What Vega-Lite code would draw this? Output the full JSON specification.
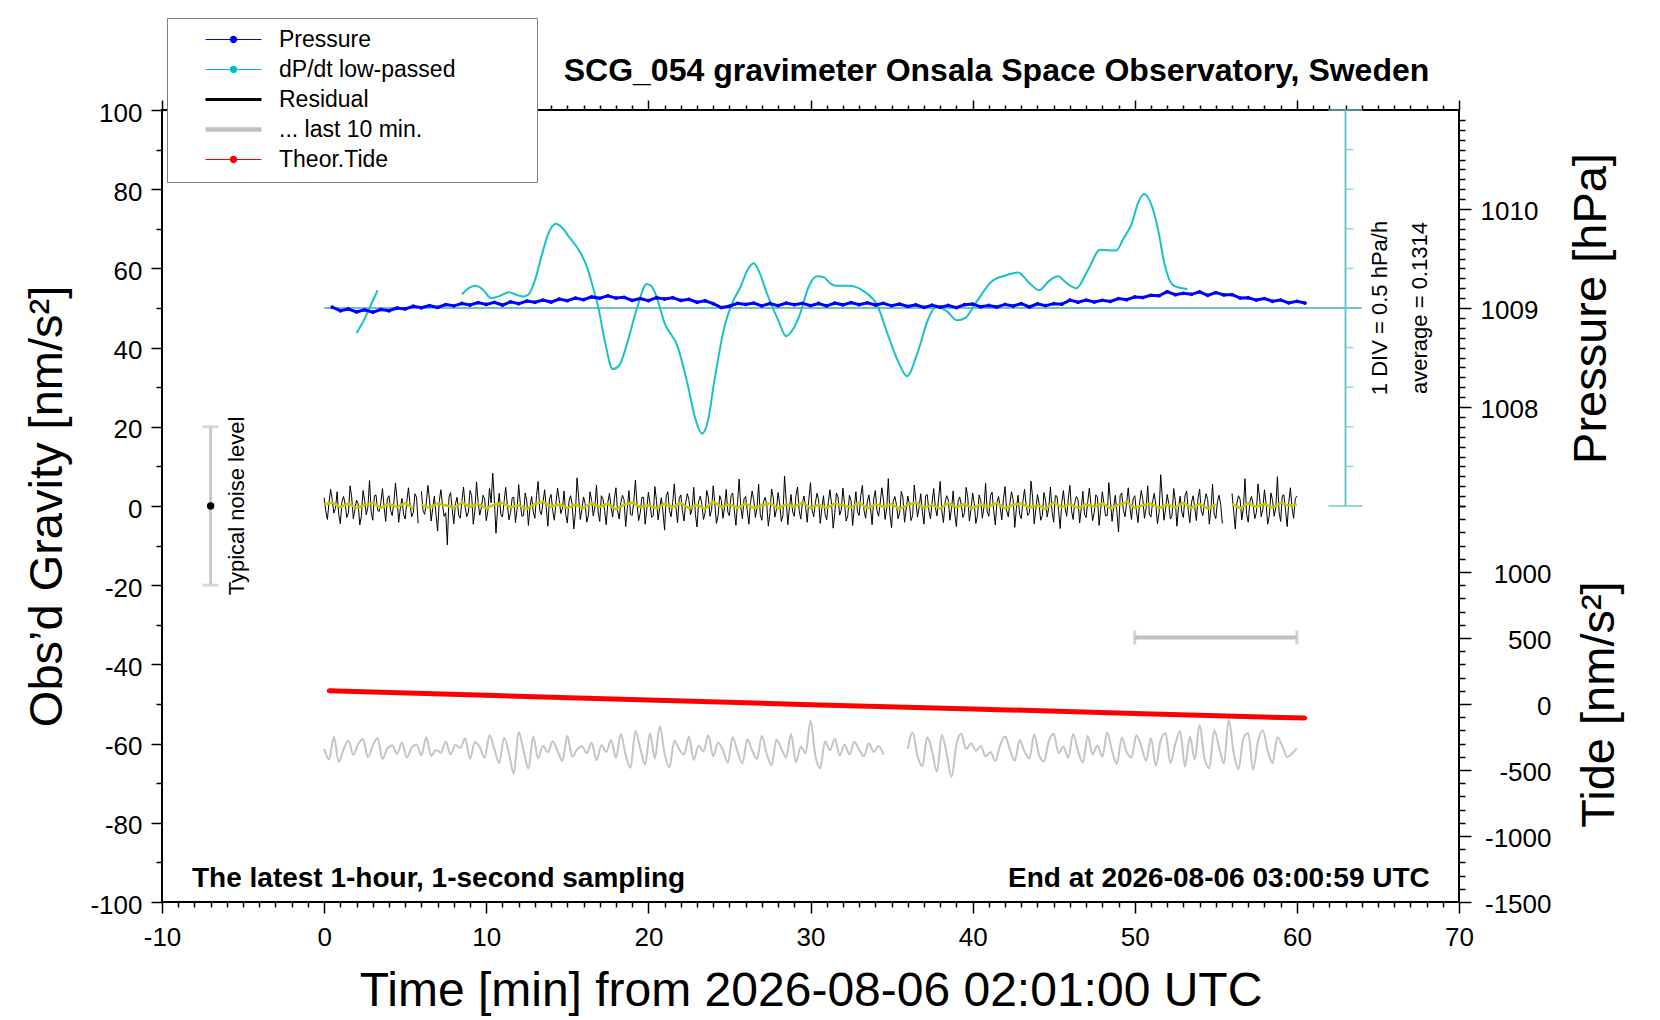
{
  "$schema": "https://vega.github.io/schema/vega-lite/v6.json",
  "width": 1297,
  "height": 792,
  "autosize": "none",
  "padding": {"left": 162, "top": 110, "right": 201, "bottom": 118},
  "background": "white",
  "title": {
    "text": "SCG_054 gravimeter Onsala Space Observatory, Sweden",
    "font": "Liberation Sans",
    "fontSize": 32,
    "fontWeight": "bold",
    "color": "black",
    "anchor": "middle",
    "frame": "group",
    "dx": 186,
    "offset": -95,
    "baseline": "alphabetic"
  },
  "datasets": {
    "res": [
      {"s":1,"t":0,"g":2.1},{"s":1,"t":0.1,"g":-1.2},{"s":1,"t":0.2,"g":-3.4},{"s":1,"t":0.3,"g":0.8},{"s":1,"t":0.4,"g":4.2},{"s":1,"t":0.5,"g":1.6},{"s":1,"t":0.6,"g":-1.8},{"s":1,"t":0.7,"g":-0.6},{"s":1,"t":0.8,"g":3.6},{"s":1,"t":0.9,"g":-2.1},
      {"s":1,"t":1,"g":-4.5},{"s":1,"t":1.1,"g":1.1},{"s":1,"t":1.2,"g":2.4},{"s":1,"t":1.3,"g":0.4},{"s":1,"t":1.4,"g":-2.9},{"s":1,"t":1.5,"g":-1.7},{"s":1,"t":1.6,"g":5.1},{"s":1,"t":1.7,"g":2.2},{"s":1,"t":1.8,"g":-3.2},{"s":1,"t":1.9,"g":-0.9},
      {"s":1,"t":2,"g":1.5},{"s":1,"t":2.1,"g":0.6},{"s":1,"t":2.2,"g":-4.8},{"s":1,"t":2.3,"g":-2.4},{"s":1,"t":2.4,"g":3.9},{"s":1,"t":2.5,"g":1.4},{"s":1,"t":2.6,"g":-2.2},{"s":1,"t":2.7,"g":-0.3},{"s":1,"t":2.8,"g":6.4},{"s":1,"t":2.9,"g":-1.5},
      {"s":1,"t":3,"g":-3.6},{"s":1,"t":3.1,"g":2.6},{"s":1,"t":3.2,"g":2.8},{"s":1,"t":3.3,"g":-1.1},{"s":1,"t":3.4,"g":-1.4},{"s":1,"t":3.5,"g":0.9},{"s":1,"t":3.6,"g":4.4},{"s":1,"t":3.7,"g":-0.4},{"s":1,"t":3.8,"g":-3.9},{"s":1,"t":3.9,"g":1.8},
      {"s":1,"t":4,"g":2.6},{"s":1,"t":4.1,"g":-1.2},{"s":1,"t":4.2,"g":-2.4},{"s":1,"t":4.3,"g":0.8},{"s":1,"t":4.4,"g":5.8},{"s":1,"t":4.5,"g":1.6},{"s":1,"t":4.6,"g":-4.1},{"s":1,"t":4.7,"g":-0.6},{"s":1,"t":4.8,"g":1.9},{"s":1,"t":4.9,"g":-2.1},
      {"s":1,"t":5,"g":-3.3},{"s":1,"t":5.1,"g":1.1},{"s":1,"t":5.2,"g":4.6},{"s":1,"t":5.3,"g":0.4},{"s":1,"t":5.4,"g":-2.7},{"s":1,"t":5.5,"g":-1.7},{"s":1,"t":5.6,"g":3.1},{"s":1,"t":5.7,"g":2.2},{"s":1,"t":5.8,"g":-4.4},
      {"s":2,"t":6,"g":3.7},{"s":2,"t":6.1,"g":-1.2},{"s":2,"t":6.2,"g":-2.1},{"s":2,"t":6.3,"g":0.8},{"s":2,"t":6.4,"g":5.2},{"s":2,"t":6.5,"g":1.6},{"s":2,"t":6.6,"g":-3.8},{"s":2,"t":6.7,"g":-0.6},{"s":2,"t":6.8,"g":2.5},{"s":2,"t":6.9,"g":-2.1},
      {"s":2,"t":7,"g":-6.3},{"s":2,"t":7.1,"g":1.1},{"s":2,"t":7.2,"g":4.1},{"s":2,"t":7.3,"g":0.4},{"s":2,"t":7.4,"g":-2.6},{"s":2,"t":7.5,"g":-1.7},{"s":2,"t":7.6,"g":-9.8},{"s":2,"t":7.7,"g":2.2},{"s":2,"t":7.8,"g":3.4},{"s":2,"t":7.9,"g":-0.9},
      {"s":2,"t":8,"g":-4.5},{"s":2,"t":8.1,"g":0.6},{"s":2,"t":8.2,"g":2.2},{"s":2,"t":8.3,"g":-2.4},{"s":2,"t":8.4,"g":-3.1},{"s":2,"t":8.5,"g":1.4},{"s":2,"t":8.6,"g":4.8},{"s":2,"t":8.7,"g":-0.3},{"s":2,"t":8.8,"g":-2.7},{"s":2,"t":8.9,"g":-1.5},
      {"s":2,"t":9,"g":3.9},{"s":2,"t":9.1,"g":2.6},{"s":2,"t":9.2,"g":-4.6},{"s":2,"t":9.3,"g":-1.1},{"s":2,"t":9.4,"g":6.1},{"s":2,"t":9.5,"g":0.9},{"s":2,"t":9.6,"g":-2.3},{"s":2,"t":9.7,"g":-0.4},{"s":2,"t":9.8,"g":2.7},{"s":2,"t":9.9,"g":1.8},
      {"s":2,"t":10,"g":-3.7},{"s":2,"t":10.1,"g":-1.2},{"s":2,"t":10.2,"g":4.4},{"s":2,"t":10.3,"g":0.8},{"s":2,"t":10.4,"g":8.3},{"s":2,"t":10.5,"g":1.6},{"s":2,"t":10.6,"g":-6.9},{"s":2,"t":10.7,"g":-0.6},{"s":2,"t":10.8,"g":3.2},{"s":2,"t":10.9,"g":-2.1},
      {"s":2,"t":11,"g":-2.8},{"s":2,"t":11.1,"g":1.1},{"s":2,"t":11.2,"g":4.7},{"s":2,"t":11.3,"g":0.4},{"s":2,"t":11.4,"g":-3.5},{"s":2,"t":11.5,"g":-1.7},{"s":2,"t":11.6,"g":2.1},{"s":2,"t":11.7,"g":2.2},{"s":2,"t":11.8,"g":-4.2},{"s":2,"t":11.9,"g":-0.9},
      {"s":2,"t":12,"g":5.4},{"s":2,"t":12.1,"g":0.6},{"s":2,"t":12.2,"g":-2.6},{"s":2,"t":12.3,"g":-2.4},{"s":2,"t":12.4,"g":3.3},{"s":2,"t":12.5,"g":1.4},{"s":2,"t":12.6,"g":-4.9},{"s":2,"t":12.7,"g":-0.3},{"s":2,"t":12.8,"g":2.4},{"s":2,"t":12.9,"g":-1.5},
      {"s":2,"t":13,"g":-3.1},{"s":2,"t":13.1,"g":2.6},{"s":2,"t":13.2,"g":6.2},{"s":2,"t":13.3,"g":-1.1},{"s":2,"t":13.4,"g":-2.2},{"s":2,"t":13.5,"g":0.9},{"s":2,"t":13.6,"g":4.1},{"s":2,"t":13.7,"g":-0.4},{"s":2,"t":13.8,"g":-5.1},{"s":2,"t":13.9,"g":1.8},
      {"s":2,"t":14,"g":2.9},{"s":2,"t":14.1,"g":-1.2},{"s":2,"t":14.2,"g":-3.6},{"s":2,"t":14.3,"g":0.8},{"s":2,"t":14.4,"g":4.5},{"s":2,"t":14.5,"g":1.6},{"s":2,"t":14.6,"g":-1.9},{"s":2,"t":14.7,"g":-0.6},{"s":2,"t":14.8,"g":3.8},{"s":2,"t":14.9,"g":-2.1},
      {"s":2,"t":15,"g":-4.3},{"s":2,"t":15.1,"g":1.1},{"s":2,"t":15.2,"g":2.6},{"s":2,"t":15.3,"g":0.4},{"s":2,"t":15.4,"g":-5.8},{"s":2,"t":15.5,"g":-1.7},{"s":2,"t":15.6,"g":7.1},{"s":2,"t":15.7,"g":2.2},{"s":2,"t":15.8,"g":-3.4},{"s":2,"t":15.9,"g":-0.9},
      {"s":2,"t":16,"g":2.3},{"s":2,"t":16.1,"g":0.6},{"s":2,"t":16.2,"g":-4.1},{"s":2,"t":16.3,"g":-2.4},{"s":2,"t":16.4,"g":3.6},{"s":2,"t":16.5,"g":1.4},{"s":2,"t":16.6,"g":-2.5},{"s":2,"t":16.7,"g":-0.3},{"s":2,"t":16.8,"g":5.3},{"s":2,"t":16.9,"g":-1.5},
      {"s":2,"t":17,"g":-3.9},{"s":2,"t":17.1,"g":2.6},{"s":2,"t":17.2,"g":1.8},{"s":2,"t":17.3,"g":-1.1},{"s":2,"t":17.4,"g":-4.7},{"s":2,"t":17.5,"g":0.9},{"s":2,"t":17.6,"g":3.2},{"s":2,"t":17.7,"g":-0.4},{"s":2,"t":17.8,"g":-2.8},{"s":2,"t":17.9,"g":1.8},
      {"s":2,"t":18,"g":4.6},{"s":2,"t":18.1,"g":-1.2},{"s":2,"t":18.2,"g":-3.3},{"s":2,"t":18.3,"g":0.8},{"s":2,"t":18.4,"g":2.7},{"s":2,"t":18.5,"g":1.6},{"s":2,"t":18.6,"g":-5.2},{"s":2,"t":18.7,"g":-0.6},{"s":2,"t":18.8,"g":3.9},{"s":2,"t":18.9,"g":-2.1},
      {"s":2,"t":19,"g":-2.4},{"s":2,"t":19.1,"g":1.1},{"s":2,"t":19.2,"g":6.5},{"s":2,"t":19.3,"g":0.4},{"s":2,"t":19.4,"g":-3.7},{"s":2,"t":19.5,"g":-1.7},{"s":2,"t":19.6,"g":2.2},{"s":2,"t":19.7,"g":2.2},{"s":2,"t":19.8,"g":-4.6},{"s":2,"t":19.9,"g":-0.9},
      {"s":2,"t":20,"g":3.5},{"s":2,"t":20.1,"g":0.6},{"s":2,"t":20.2,"g":-2.9},{"s":2,"t":20.3,"g":-2.4},{"s":2,"t":20.4,"g":4.9},{"s":2,"t":20.5,"g":1.4},{"s":2,"t":20.6,"g":-3.5},{"s":2,"t":20.7,"g":-0.3},{"s":2,"t":20.8,"g":2.1},{"s":2,"t":20.9,"g":-1.5},
      {"s":2,"t":21,"g":-6.1},{"s":2,"t":21.1,"g":2.6},{"s":2,"t":21.2,"g":3.6},{"s":2,"t":21.3,"g":-1.1},{"s":2,"t":21.4,"g":-2.7},{"s":2,"t":21.5,"g":0.9},{"s":2,"t":21.6,"g":5.6},{"s":2,"t":21.7,"g":-0.4},{"s":2,"t":21.8,"g":-4.2},{"s":2,"t":21.9,"g":1.8},
      {"s":2,"t":22,"g":2.8},{"s":2,"t":22.1,"g":-1.2},{"s":2,"t":22.2,"g":-3.8},{"s":2,"t":22.3,"g":0.8},{"s":2,"t":22.4,"g":3.1},{"s":2,"t":22.5,"g":1.6},{"s":2,"t":22.6,"g":-2.2},{"s":2,"t":22.7,"g":-0.6},{"s":2,"t":22.8,"g":4.7},{"s":2,"t":22.9,"g":-2.1},
      {"s":2,"t":23,"g":-5.3},{"s":2,"t":23.1,"g":1.1},{"s":2,"t":23.2,"g":2.5},{"s":2,"t":23.3,"g":0.4},{"s":2,"t":23.4,"g":-3.4},{"s":2,"t":23.5,"g":-1.7},{"s":2,"t":23.6,"g":3.9},{"s":2,"t":23.7,"g":2.2},{"s":2,"t":23.8,"g":-2.6},{"s":2,"t":23.9,"g":-0.9},
      {"s":2,"t":24,"g":5.1},{"s":2,"t":24.1,"g":0.6},{"s":2,"t":24.2,"g":-4.4},{"s":2,"t":24.3,"g":-2.4},{"s":2,"t":24.4,"g":2.6},{"s":2,"t":24.5,"g":1.4},{"s":2,"t":24.6,"g":-3.1},{"s":2,"t":24.7,"g":-0.3},{"s":2,"t":24.8,"g":4.2},{"s":2,"t":24.9,"g":-1.5},
      {"s":2,"t":25,"g":-2.5},{"s":2,"t":25.1,"g":2.6},{"s":2,"t":25.2,"g":3.3},{"s":2,"t":25.3,"g":-1.1},{"s":2,"t":25.4,"g":-4.9},{"s":2,"t":25.5,"g":0.9},{"s":2,"t":25.6,"g":6.8},{"s":2,"t":25.7,"g":-0.4},{"s":2,"t":25.8,"g":-3.2},{"s":2,"t":25.9,"g":1.8},
      {"s":2,"t":26,"g":2.4},{"s":2,"t":26.1,"g":-1.2},{"s":2,"t":26.2,"g":-4.6},{"s":2,"t":26.3,"g":0.8},{"s":2,"t":26.4,"g":3.8},{"s":2,"t":26.5,"g":1.6},{"s":2,"t":26.6,"g":-2.9},{"s":2,"t":26.7,"g":-0.6},{"s":2,"t":26.8,"g":5.5},{"s":2,"t":26.9,"g":-2.1},
      {"s":2,"t":27,"g":-3.6},{"s":2,"t":27.1,"g":1.1},{"s":2,"t":27.2,"g":2.2},{"s":2,"t":27.3,"g":0.4},{"s":2,"t":27.4,"g":-5.1},{"s":2,"t":27.5,"g":-1.7},{"s":2,"t":27.6,"g":4.3},{"s":2,"t":27.7,"g":2.2},{"s":2,"t":27.8,"g":-2.8},{"s":2,"t":27.9,"g":-0.9},
      {"s":2,"t":28,"g":3.4},{"s":2,"t":28.1,"g":0.6},{"s":2,"t":28.2,"g":-3.9},{"s":2,"t":28.3,"g":-2.4},{"s":2,"t":28.4,"g":7.6},{"s":2,"t":28.5,"g":1.4},{"s":2,"t":28.6,"g":-4.7},{"s":2,"t":28.7,"g":-0.3},{"s":2,"t":28.8,"g":2.9},{"s":2,"t":28.9,"g":-1.5},
      {"s":2,"t":29,"g":-2.6},{"s":2,"t":29.1,"g":2.6},{"s":2,"t":29.2,"g":4.8},{"s":2,"t":29.3,"g":-1.1},{"s":2,"t":29.4,"g":-3.3},{"s":2,"t":29.5,"g":0.9},{"s":2,"t":29.6,"g":2.5},{"s":2,"t":29.7,"g":-0.4},{"s":2,"t":29.8,"g":-4.1},{"s":2,"t":29.9,"g":1.8},
      {"s":2,"t":30,"g":5.9},{"s":2,"t":30.1,"g":-1.2},{"s":2,"t":30.2,"g":-2.7},{"s":2,"t":30.3,"g":0.8},{"s":2,"t":30.4,"g":3.2},{"s":2,"t":30.5,"g":1.6},{"s":2,"t":30.6,"g":-4.4},{"s":2,"t":30.7,"g":-0.6},{"s":2,"t":30.8,"g":2.6},{"s":2,"t":30.9,"g":-2.1},
      {"s":2,"t":31,"g":-3.5},{"s":2,"t":31.1,"g":1.1},{"s":2,"t":31.2,"g":4.1},{"s":2,"t":31.3,"g":0.4},{"s":2,"t":31.4,"g":-5.6},{"s":2,"t":31.5,"g":-1.7},{"s":2,"t":31.6,"g":3.3},{"s":2,"t":31.7,"g":2.2},{"s":2,"t":31.8,"g":-2.3},{"s":2,"t":31.9,"g":-0.9},
      {"s":2,"t":32,"g":4.5},{"s":2,"t":32.1,"g":0.6},{"s":2,"t":32.2,"g":-3.8},{"s":2,"t":32.3,"g":-2.4},{"s":2,"t":32.4,"g":2.7},{"s":2,"t":32.5,"g":1.4},{"s":2,"t":32.6,"g":-4.9},{"s":2,"t":32.7,"g":-0.3},{"s":2,"t":32.8,"g":3.6},{"s":2,"t":32.9,"g":-1.5},
      {"s":2,"t":33,"g":-2.4},{"s":2,"t":33.1,"g":2.6},{"s":2,"t":33.2,"g":5.2},{"s":2,"t":33.3,"g":-1.1},{"s":2,"t":33.4,"g":-3.1},{"s":2,"t":33.5,"g":0.9},{"s":2,"t":33.6,"g":2.8},{"s":2,"t":33.7,"g":-0.4},{"s":2,"t":33.8,"g":-4.7},{"s":2,"t":33.9,"g":1.8},
      {"s":2,"t":34,"g":3.9},{"s":2,"t":34.1,"g":-1.2},{"s":2,"t":34.2,"g":-2.6},{"s":2,"t":34.3,"g":0.8},{"s":2,"t":34.4,"g":4.6},{"s":2,"t":34.5,"g":1.6},{"s":2,"t":34.6,"g":-3.4},{"s":2,"t":34.7,"g":-0.6},{"s":2,"t":34.8,"g":6.9},{"s":2,"t":34.9,"g":-2.1},
      {"s":2,"t":35,"g":-5.5},{"s":2,"t":35.1,"g":1.1},{"s":2,"t":35.2,"g":2.4},{"s":2,"t":35.3,"g":0.4},{"s":2,"t":35.4,"g":-3.2},{"s":2,"t":35.5,"g":-1.7},{"s":2,"t":35.6,"g":3.7},{"s":2,"t":35.7,"g":2.2},{"s":2,"t":35.8,"g":-4.1},{"s":2,"t":35.9,"g":-0.9},
      {"s":2,"t":36,"g":2.5},{"s":2,"t":36.1,"g":0.6},{"s":2,"t":36.2,"g":-3.7},{"s":2,"t":36.3,"g":-2.4},{"s":2,"t":36.4,"g":5.3},{"s":2,"t":36.5,"g":1.4},{"s":2,"t":36.6,"g":-2.8},{"s":2,"t":36.7,"g":-0.3},{"s":2,"t":36.8,"g":3.1},{"s":2,"t":36.9,"g":-1.5},
      {"s":2,"t":37,"g":-4.6},{"s":2,"t":37.1,"g":2.6},{"s":2,"t":37.2,"g":2.9},{"s":2,"t":37.3,"g":-1.1},{"s":2,"t":37.4,"g":-3.3},{"s":2,"t":37.5,"g":0.9},{"s":2,"t":37.6,"g":4.4},{"s":2,"t":37.7,"g":-0.4},{"s":2,"t":37.8,"g":-2.5},{"s":2,"t":37.9,"g":1.8},
      {"s":2,"t":38,"g":6.2},{"s":2,"t":38.1,"g":-1.2},{"s":2,"t":38.2,"g":-4.2},{"s":2,"t":38.3,"g":0.8},{"s":2,"t":38.4,"g":2.6},{"s":2,"t":38.5,"g":1.6},{"s":2,"t":38.6,"g":-3.6},{"s":2,"t":38.7,"g":-0.6},{"s":2,"t":38.8,"g":3.8},{"s":2,"t":38.9,"g":-2.1},
      {"s":2,"t":39,"g":-5.2},{"s":2,"t":39.1,"g":1.1},{"s":2,"t":39.2,"g":2.3},{"s":2,"t":39.3,"g":0.4},{"s":2,"t":39.4,"g":-2.9},{"s":2,"t":39.5,"g":-1.7},{"s":2,"t":39.6,"g":4.7},{"s":2,"t":39.7,"g":2.2},{"s":2,"t":39.8,"g":-3.8},{"s":2,"t":39.9,"g":-0.9},
      {"s":2,"t":40,"g":3.3},{"s":2,"t":40.1,"g":0.6},{"s":2,"t":40.2,"g":-4.4},{"s":2,"t":40.3,"g":-2.4},{"s":2,"t":40.4,"g":2.8},{"s":2,"t":40.5,"g":1.4},{"s":2,"t":40.6,"g":-3.1},{"s":2,"t":40.7,"g":-0.3},{"s":2,"t":40.8,"g":5.7},{"s":2,"t":40.9,"g":-1.5},
      {"s":2,"t":41,"g":-2.6},{"s":2,"t":41.1,"g":2.6},{"s":2,"t":41.2,"g":3.5},{"s":2,"t":41.3,"g":-1.1},{"s":2,"t":41.4,"g":-4.8},{"s":2,"t":41.5,"g":0.9},{"s":2,"t":41.6,"g":2.4},{"s":2,"t":41.7,"g":-0.4},{"s":2,"t":41.8,"g":-3.5},{"s":2,"t":41.9,"g":1.8},
      {"s":2,"t":42,"g":4.9},{"s":2,"t":42.1,"g":-1.2},{"s":2,"t":42.2,"g":-2.7},{"s":2,"t":42.3,"g":0.8},{"s":2,"t":42.4,"g":3.6},{"s":2,"t":42.5,"g":1.6},{"s":2,"t":42.6,"g":-5.4},{"s":2,"t":42.7,"g":-0.6},{"s":2,"t":42.8,"g":2.7},{"s":2,"t":42.9,"g":-2.1},
      {"s":2,"t":43,"g":-3.2},{"s":2,"t":43.1,"g":1.1},{"s":2,"t":43.2,"g":4.2},{"s":2,"t":43.3,"g":0.4},{"s":2,"t":43.4,"g":-2.4},{"s":2,"t":43.5,"g":-1.7},{"s":2,"t":43.6,"g":6.3},{"s":2,"t":43.7,"g":2.2},{"s":2,"t":43.8,"g":-4.5},{"s":2,"t":43.9,"g":-0.9},
      {"s":2,"t":44,"g":2.9},{"s":2,"t":44.1,"g":0.6},{"s":2,"t":44.2,"g":-3.6},{"s":2,"t":44.3,"g":-2.4},{"s":2,"t":44.4,"g":3.4},{"s":2,"t":44.5,"g":1.4},{"s":2,"t":44.6,"g":-2.8},{"s":2,"t":44.7,"g":-0.3},{"s":2,"t":44.8,"g":4.8},{"s":2,"t":44.9,"g":-1.5},
      {"s":2,"t":45,"g":-4.1},{"s":2,"t":45.1,"g":2.6},{"s":2,"t":45.2,"g":2.5},{"s":2,"t":45.3,"g":-1.1},{"s":2,"t":45.4,"g":-5.7},{"s":2,"t":45.5,"g":0.9},{"s":2,"t":45.6,"g":3.9},{"s":2,"t":45.7,"g":-0.4},{"s":2,"t":45.8,"g":-2.6},{"s":2,"t":45.9,"g":1.8},
      {"s":2,"t":46,"g":5.2},{"s":2,"t":46.1,"g":-1.2},{"s":2,"t":46.2,"g":-3.4},{"s":2,"t":46.3,"g":0.8},{"s":2,"t":46.4,"g":2.4},{"s":2,"t":46.5,"g":1.6},{"s":2,"t":46.6,"g":-4.3},{"s":2,"t":46.7,"g":-0.6},{"s":2,"t":46.8,"g":3.7},{"s":2,"t":46.9,"g":-2.1},
      {"s":2,"t":47,"g":-2.9},{"s":2,"t":47.1,"g":1.1},{"s":2,"t":47.2,"g":4.5},{"s":2,"t":47.3,"g":0.4},{"s":2,"t":47.4,"g":-3.7},{"s":2,"t":47.5,"g":-1.7},{"s":2,"t":47.6,"g":2.8},{"s":2,"t":47.7,"g":2.2},{"s":2,"t":47.8,"g":-4.9},{"s":2,"t":47.9,"g":-0.9},
      {"s":2,"t":48,"g":3.6},{"s":2,"t":48.1,"g":0.6},{"s":2,"t":48.2,"g":-2.5},{"s":2,"t":48.3,"g":-2.4},{"s":2,"t":48.4,"g":5.9},{"s":2,"t":48.5,"g":1.4},{"s":2,"t":48.6,"g":-3.9},{"s":2,"t":48.7,"g":-0.3},{"s":2,"t":48.8,"g":2.7},{"s":2,"t":48.9,"g":-1.5},
      {"s":2,"t":49,"g":-6.6},{"s":2,"t":49.1,"g":2.6},{"s":2,"t":49.2,"g":3.3},{"s":2,"t":49.3,"g":-1.1},{"s":2,"t":49.4,"g":-2.7},{"s":2,"t":49.5,"g":0.9},{"s":2,"t":49.6,"g":4.6},{"s":2,"t":49.7,"g":-0.4},{"s":2,"t":49.8,"g":-3.4},{"s":2,"t":49.9,"g":1.8},
      {"s":2,"t":50,"g":2.6},{"s":2,"t":50.1,"g":-1.2},{"s":2,"t":50.2,"g":-4.2},{"s":2,"t":50.3,"g":0.8},{"s":2,"t":50.4,"g":3.9},{"s":2,"t":50.5,"g":1.6},{"s":2,"t":50.6,"g":-3.1},{"s":2,"t":50.7,"g":-0.6},{"s":2,"t":50.8,"g":5.1},{"s":2,"t":50.9,"g":-2.1},
      {"s":2,"t":51,"g":-2.8},{"s":2,"t":51.1,"g":1.1},{"s":2,"t":51.2,"g":3.2},{"s":2,"t":51.3,"g":0.4},{"s":2,"t":51.4,"g":-4.5},{"s":2,"t":51.5,"g":-1.7},{"s":2,"t":51.6,"g":7.9},{"s":2,"t":51.7,"g":2.2},{"s":2,"t":51.8,"g":-3.6},{"s":2,"t":51.9,"g":-0.9},
      {"s":2,"t":52,"g":2.9},{"s":2,"t":52.1,"g":0.6},{"s":2,"t":52.2,"g":-3.3},{"s":2,"t":52.3,"g":-2.4},{"s":2,"t":52.4,"g":4.4},{"s":2,"t":52.5,"g":1.4},{"s":2,"t":52.6,"g":-5.1},{"s":2,"t":52.7,"g":-0.3},{"s":2,"t":52.8,"g":2.5},{"s":2,"t":52.9,"g":-1.5},
      {"s":2,"t":53,"g":-2.9},{"s":2,"t":53.1,"g":2.6},{"s":2,"t":53.2,"g":3.8},{"s":2,"t":53.3,"g":-1.1},{"s":2,"t":53.4,"g":-4.2},{"s":2,"t":53.5,"g":0.9},{"s":2,"t":53.6,"g":2.6},{"s":2,"t":53.7,"g":-0.4},{"s":2,"t":53.8,"g":-3.7},{"s":2,"t":53.9,"g":1.8},
      {"s":2,"t":54,"g":4.3},{"s":2,"t":54.1,"g":-1.2},{"s":2,"t":54.2,"g":-2.4},{"s":2,"t":54.3,"g":0.8},{"s":2,"t":54.4,"g":3.1},{"s":2,"t":54.5,"g":1.6},{"s":2,"t":54.6,"g":-4.6},{"s":2,"t":54.7,"g":-0.6},{"s":2,"t":54.8,"g":5.5},{"s":2,"t":54.9,"g":-2.1},
      {"s":2,"t":55,"g":-3.2},{"s":2,"t":55.1,"g":1.1},{"s":2,"t":55.2,"g":2.7},{"s":2,"t":55.3,"g":0.4},{"s":2,"t":55.4,"g":-4.4},
      {"s":3,"t":56,"g":3.2},{"s":3,"t":56.1,"g":-1.2},{"s":3,"t":56.2,"g":-5.8},{"s":3,"t":56.3,"g":0.8},{"s":3,"t":56.4,"g":2.6},{"s":3,"t":56.5,"g":1.6},{"s":3,"t":56.6,"g":-3.5},{"s":3,"t":56.7,"g":-0.6},{"s":3,"t":56.8,"g":6.9},{"s":3,"t":56.9,"g":-2.1},
      {"s":3,"t":57,"g":-4.1},{"s":3,"t":57.1,"g":1.1},{"s":3,"t":57.2,"g":2.4},{"s":3,"t":57.3,"g":0.4},{"s":3,"t":57.4,"g":-3.2},{"s":3,"t":57.5,"g":-1.7},{"s":3,"t":57.6,"g":5.6},{"s":3,"t":57.7,"g":2.2},{"s":3,"t":57.8,"g":-2.7},{"s":3,"t":57.9,"g":-0.9},
      {"s":3,"t":58,"g":4.1},{"s":3,"t":58.1,"g":0.6},{"s":3,"t":58.2,"g":-4.6},{"s":3,"t":58.3,"g":-2.4},{"s":3,"t":58.4,"g":3.3},{"s":3,"t":58.5,"g":1.4},{"s":3,"t":58.6,"g":-2.6},{"s":3,"t":58.7,"g":-0.3},{"s":3,"t":58.8,"g":7.4},{"s":3,"t":58.9,"g":-1.5},
      {"s":3,"t":59,"g":-3.9},{"s":3,"t":59.1,"g":2.6},{"s":3,"t":59.2,"g":2.8},{"s":3,"t":59.3,"g":-1.1},{"s":3,"t":59.4,"g":-5.2},{"s":3,"t":59.5,"g":0.9},{"s":3,"t":59.6,"g":4.6},{"s":3,"t":59.7,"g":-0.4},{"s":3,"t":59.8,"g":-3.1},{"s":3,"t":59.9,"g":1.8},
      {"s":3,"t":60,"g":2.5}
    ],
    "yel": [
      {"s":1,"t":0,"g":0.4},{"s":1,"t":0.5,"g":0.9},{"s":1,"t":1,"g":-0.3},{"s":1,"t":1.5,"g":0.6},{"s":1,"t":2,"g":-0.5},{"s":1,"t":2.5,"g":0.2},{"s":1,"t":3,"g":0.8},{"s":1,"t":3.5,"g":-0.4},{"s":1,"t":4,"g":0.5},{"s":1,"t":4.5,"g":-0.2},{"s":1,"t":5,"g":0.7},{"s":1,"t":5.5,"g":-0.6},
      {"s":2,"t":6,"g":0.3},{"s":2,"t":6.5,"g":-0.5},{"s":2,"t":7,"g":0.6},{"s":2,"t":7.5,"g":0.2},{"s":2,"t":8,"g":-0.4},{"s":2,"t":8.5,"g":0.9},{"s":2,"t":9,"g":-0.2},{"s":2,"t":9.5,"g":0.5},{"s":2,"t":10,"g":-0.6},{"s":2,"t":10.5,"g":0.4},
      {"s":2,"t":11,"g":0.8},{"s":2,"t":11.5,"g":-0.3},{"s":2,"t":12,"g":0.2},{"s":2,"t":12.5,"g":-0.7},{"s":2,"t":13,"g":0.5},{"s":2,"t":13.5,"g":1.1},{"s":2,"t":14,"g":-0.2},{"s":2,"t":14.5,"g":0.4},{"s":2,"t":15,"g":-0.5},{"s":2,"t":15.5,"g":0.3},
      {"s":2,"t":16,"g":-0.4},{"s":2,"t":16.5,"g":0.7},{"s":2,"t":17,"g":-0.2},{"s":2,"t":17.5,"g":0.6},{"s":2,"t":18,"g":-0.8},{"s":2,"t":18.5,"g":0.3},{"s":2,"t":19,"g":0.9},{"s":2,"t":19.5,"g":-0.3},{"s":2,"t":20,"g":0.2},{"s":2,"t":20.5,"g":-0.6},
      {"s":2,"t":21,"g":0.5},{"s":2,"t":21.5,"g":-0.2},{"s":2,"t":22,"g":0.8},{"s":2,"t":22.5,"g":-0.5},{"s":2,"t":23,"g":0.3},{"s":2,"t":23.5,"g":-0.7},{"s":2,"t":24,"g":1.2},{"s":2,"t":24.5,"g":-0.3},{"s":2,"t":25,"g":0.4},{"s":2,"t":25.5,"g":-0.4},
      {"s":2,"t":26,"g":0.6},{"s":2,"t":26.5,"g":-0.5},{"s":2,"t":27,"g":0.2},{"s":2,"t":27.5,"g":0.7},{"s":2,"t":28,"g":-0.6},{"s":2,"t":28.5,"g":0.4},{"s":2,"t":29,"g":-0.2},{"s":2,"t":29.5,"g":0.9},{"s":2,"t":30,"g":-0.4},{"s":2,"t":30.5,"g":0.3},
      {"s":2,"t":31,"g":-0.5},{"s":2,"t":31.5,"g":0.6},{"s":2,"t":32,"g":0.2},{"s":2,"t":32.5,"g":-0.3},{"s":2,"t":33,"g":0.8},{"s":2,"t":33.5,"g":-0.6},{"s":2,"t":34,"g":0.4},{"s":2,"t":34.5,"g":-0.2},{"s":2,"t":35,"g":0.5},{"s":2,"t":35.5,"g":-0.7},
      {"s":2,"t":36,"g":0.3},{"s":2,"t":36.5,"g":0.9},{"s":2,"t":37,"g":-0.4},{"s":2,"t":37.5,"g":0.2},{"s":2,"t":38,"g":-0.6},{"s":2,"t":38.5,"g":0.7},{"s":2,"t":39,"g":-0.3},{"s":2,"t":39.5,"g":0.5},{"s":2,"t":40,"g":-0.5},{"s":2,"t":40.5,"g":0.4},
      {"s":2,"t":41,"g":-0.2},{"s":2,"t":41.5,"g":0.8},{"s":2,"t":42,"g":-0.6},{"s":2,"t":42.5,"g":0.3},{"s":2,"t":43,"g":0.6},{"s":2,"t":43.5,"g":-0.4},{"s":2,"t":44,"g":0.2},{"s":2,"t":44.5,"g":-0.7},{"s":2,"t":45,"g":0.9},{"s":2,"t":45.5,"g":-0.3},
      {"s":2,"t":46,"g":0.5},{"s":2,"t":46.5,"g":-0.5},{"s":2,"t":47,"g":0.4},{"s":2,"t":47.5,"g":-0.2},{"s":2,"t":48,"g":0.7},{"s":2,"t":48.5,"g":-0.6},{"s":2,"t":49,"g":0.3},{"s":2,"t":49.5,"g":1.0},{"s":2,"t":50,"g":-0.4},{"s":2,"t":50.5,"g":0.2},
      {"s":2,"t":51,"g":0.6},{"s":2,"t":51.5,"g":-0.5},{"s":2,"t":52,"g":0.3},{"s":2,"t":52.5,"g":-0.3},{"s":2,"t":53,"g":0.8},{"s":2,"t":53.5,"g":-0.4},{"s":2,"t":54,"g":0.5},{"s":2,"t":54.5,"g":-0.6},{"s":2,"t":55,"g":0.4},
      {"s":3,"t":56,"g":0.4},{"s":3,"t":56.5,"g":-0.5},{"s":3,"t":57,"g":0.7},{"s":3,"t":57.5,"g":-0.2},{"s":3,"t":58,"g":0.5},{"s":3,"t":58.5,"g":-0.4},{"s":3,"t":59,"g":0.8},{"s":3,"t":59.5,"g":0.1},{"s":3,"t":60,"g":0.3}
    ],
    "gry": [
      {"s":1,"t":0,"g":-61.3},{"s":1,"t":0.3,"g":-64.0},{"s":1,"t":0.6,"g":-58.3},{"s":1,"t":0.9,"g":-64.6},{"s":1,"t":1.2,"g":-61.5},{"s":1,"t":1.5,"g":-59.2},{"s":1,"t":1.8,"g":-62.8},{"s":1,"t":2.1,"g":-60.1},{"s":1,"t":2.4,"g":-58.9},{"s":1,"t":2.7,"g":-63.4},
      {"s":1,"t":3,"g":-60.5},{"s":1,"t":3.3,"g":-58.6},{"s":1,"t":3.6,"g":-63.9},{"s":1,"t":3.9,"g":-61.2},{"s":1,"t":4.2,"g":-60.4},{"s":1,"t":4.5,"g":-62.6},{"s":1,"t":4.8,"g":-59.7},{"s":1,"t":5.1,"g":-63.5},{"s":1,"t":5.4,"g":-61.0},{"s":1,"t":5.7,"g":-60.2},
      {"s":1,"t":6,"g":-62.9},{"s":1,"t":6.3,"g":-58.4},{"s":1,"t":6.6,"g":-63.1},{"s":1,"t":6.9,"g":-61.6},{"s":1,"t":7.2,"g":-62.3},{"s":1,"t":7.5,"g":-59.5},{"s":1,"t":7.8,"g":-62.7},{"s":1,"t":8.1,"g":-60.3},{"s":1,"t":8.4,"g":-61.1},{"s":1,"t":8.7,"g":-58.7},
      {"s":1,"t":9,"g":-63.8},{"s":1,"t":9.3,"g":-59.6},{"s":1,"t":9.6,"g":-60.9},{"s":1,"t":9.9,"g":-63.6},{"s":1,"t":10.2,"g":-57.9},{"s":1,"t":10.5,"g":-61.4},{"s":1,"t":10.8,"g":-64.9},{"s":1,"t":11.1,"g":-58.5},{"s":1,"t":11.4,"g":-62.5},{"s":1,"t":11.7,"g":-67.6},
      {"s":1,"t":12,"g":-57.1},{"s":1,"t":12.3,"g":-61.8},{"s":1,"t":12.6,"g":-66.3},{"s":1,"t":12.9,"g":-58.2},{"s":1,"t":13.2,"g":-63.7},{"s":1,"t":13.5,"g":-60.6},{"s":1,"t":13.8,"g":-62.2},{"s":1,"t":14.1,"g":-59.4},{"s":1,"t":14.4,"g":-61.9},{"s":1,"t":14.7,"g":-64.4},
      {"s":1,"t":15,"g":-58.0},{"s":1,"t":15.3,"g":-63.3},{"s":1,"t":15.6,"g":-61.5},{"s":1,"t":15.9,"g":-60.7},{"s":1,"t":16.2,"g":-62.4},{"s":1,"t":16.5,"g":-59.8},{"s":1,"t":16.8,"g":-64.2},{"s":1,"t":17.1,"g":-60.4},{"s":1,"t":17.4,"g":-62.1},{"s":1,"t":17.7,"g":-59.1},
      {"s":1,"t":18,"g":-63.6},{"s":1,"t":18.3,"g":-57.6},{"s":1,"t":18.6,"g":-62.9},{"s":1,"t":18.9,"g":-66.1},{"s":1,"t":19.2,"g":-56.8},{"s":1,"t":19.5,"g":-61.2},{"s":1,"t":19.8,"g":-65.3},{"s":1,"t":20.1,"g":-57.4},{"s":1,"t":20.4,"g":-63.8},{"s":1,"t":20.7,"g":-55.6},
      {"s":1,"t":21,"g":-62.5},{"s":1,"t":21.3,"g":-66.0},{"s":1,"t":21.6,"g":-59.3},{"s":1,"t":21.9,"g":-61.4},{"s":1,"t":22.2,"g":-62.8},{"s":1,"t":22.5,"g":-58.2},{"s":1,"t":22.8,"g":-64.1},{"s":1,"t":23.1,"g":-60.5},{"s":1,"t":23.4,"g":-62.0},{"s":1,"t":23.7,"g":-57.9},
      {"s":1,"t":24,"g":-63.2},{"s":1,"t":24.3,"g":-59.8},{"s":1,"t":24.6,"g":-61.6},{"s":1,"t":24.9,"g":-64.8},{"s":1,"t":25.2,"g":-58.4},{"s":1,"t":25.5,"g":-62.1},{"s":1,"t":25.8,"g":-65.0},{"s":1,"t":26.1,"g":-58.9},{"s":1,"t":26.4,"g":-61.7},{"s":1,"t":26.7,"g":-63.9},
      {"s":1,"t":27,"g":-58.1},{"s":1,"t":27.3,"g":-62.6},{"s":1,"t":27.6,"g":-65.5},{"s":1,"t":27.9,"g":-59.0},{"s":1,"t":28.2,"g":-61.3},{"s":1,"t":28.5,"g":-63.5},{"s":1,"t":28.8,"g":-57.6},{"s":1,"t":29.1,"g":-64.7},{"s":1,"t":29.4,"g":-60.8},{"s":1,"t":29.7,"g":-62.4},
      {"s":1,"t":30,"g":-54.2},{"s":1,"t":30.3,"g":-63.1},{"s":1,"t":30.6,"g":-66.2},{"s":1,"t":30.9,"g":-59.4},{"s":1,"t":31.2,"g":-61.7},{"s":1,"t":31.5,"g":-58.8},{"s":1,"t":31.8,"g":-63.0},{"s":1,"t":32.1,"g":-60.2},{"s":1,"t":32.4,"g":-62.7},{"s":1,"t":32.7,"g":-59.6},
      {"s":1,"t":33,"g":-61.5},{"s":1,"t":33.3,"g":-63.2},{"s":1,"t":33.6,"g":-59.9},{"s":1,"t":33.9,"g":-62.1},{"s":1,"t":34.2,"g":-60.6},{"s":1,"t":34.5,"g":-62.8},
      {"s":2,"t":36,"g":-61.3},{"s":2,"t":36.3,"g":-57.2},{"s":2,"t":36.6,"g":-63.1},{"s":2,"t":36.9,"g":-65.7},{"s":2,"t":37.2,"g":-58.4},{"s":2,"t":37.5,"g":-61.9},{"s":2,"t":37.8,"g":-67.1},{"s":2,"t":38.1,"g":-57.8},{"s":2,"t":38.4,"g":-62.6},{"s":2,"t":38.7,"g":-68.4},
      {"s":2,"t":39,"g":-60.2},{"s":2,"t":39.3,"g":-57.5},{"s":2,"t":39.6,"g":-61.4},{"s":2,"t":39.9,"g":-60.0},{"s":2,"t":40.2,"g":-61.8},{"s":2,"t":40.5,"g":-60.6},{"s":2,"t":40.8,"g":-63.2},{"s":2,"t":41.1,"g":-62.1},{"s":2,"t":41.4,"g":-64.4},{"s":2,"t":41.7,"g":-60.3},
      {"s":2,"t":42,"g":-58.2},{"s":2,"t":42.3,"g":-61.5},{"s":2,"t":42.6,"g":-64.3},{"s":2,"t":42.9,"g":-59.1},{"s":2,"t":43.2,"g":-62.0},{"s":2,"t":43.5,"g":-63.8},{"s":2,"t":43.8,"g":-57.7},{"s":2,"t":44.1,"g":-62.9},{"s":2,"t":44.4,"g":-64.5},{"s":2,"t":44.7,"g":-59.3},
      {"s":2,"t":45,"g":-57.5},{"s":2,"t":45.3,"g":-62.4},{"s":2,"t":45.6,"g":-60.8},{"s":2,"t":45.9,"g":-63.6},{"s":2,"t":46.2,"g":-57.6},{"s":2,"t":46.5,"g":-61.9},{"s":2,"t":46.8,"g":-64.8},{"s":2,"t":47.1,"g":-58.0},{"s":2,"t":47.4,"g":-62.7},{"s":2,"t":47.7,"g":-60.5},
      {"s":2,"t":48,"g":-63.4},{"s":2,"t":48.3,"g":-57.2},{"s":2,"t":48.6,"g":-61.8},{"s":2,"t":48.9,"g":-65.1},{"s":2,"t":49.2,"g":-58.5},{"s":2,"t":49.5,"g":-62.2},{"s":2,"t":49.8,"g":-63.5},{"s":2,"t":50.1,"g":-57.9},{"s":2,"t":50.4,"g":-60.6},{"s":2,"t":50.7,"g":-64.3},
      {"s":2,"t":51,"g":-58.6},{"s":2,"t":51.3,"g":-65.6},{"s":2,"t":51.6,"g":-59.2},{"s":2,"t":51.9,"g":-57.4},{"s":2,"t":52.2,"g":-64.9},{"s":2,"t":52.5,"g":-60.1},{"s":2,"t":52.8,"g":-56.8},{"s":2,"t":53.1,"g":-65.8},{"s":2,"t":53.4,"g":-58.2},{"s":2,"t":53.7,"g":-64.0},
      {"s":2,"t":54,"g":-55.3},{"s":2,"t":54.3,"g":-63.7},{"s":2,"t":54.6,"g":-66.2},{"s":2,"t":54.9,"g":-56.6},{"s":2,"t":55.2,"g":-60.9},{"s":2,"t":55.5,"g":-65.0},{"s":2,"t":55.8,"g":-54.0},{"s":2,"t":56.1,"g":-62.3},{"s":2,"t":56.4,"g":-66.4},{"s":2,"t":56.7,"g":-58.7},
      {"s":2,"t":57,"g":-57.3},{"s":2,"t":57.3,"g":-66.6},{"s":2,"t":57.6,"g":-59.4},{"s":2,"t":57.9,"g":-56.7},{"s":2,"t":58.2,"g":-61.8},{"s":2,"t":58.5,"g":-64.9},{"s":2,"t":58.8,"g":-58.4},{"s":2,"t":59.1,"g":-60.6},{"s":2,"t":59.4,"g":-63.4},{"s":2,"t":59.7,"g":-62.5},
      {"s":2,"t":60,"g":-61.2}
    ],
    "prs": [
      {"t":0.5,"p":1009.008},{"t":1,"p":1008.972},{"t":1.5,"p":1008.99},{"t":2,"p":1008.96},{"t":2.5,"p":1008.982},{"t":3,"p":1008.958},{"t":3.5,"p":1008.985},{"t":4,"p":1008.972},{"t":4.5,"p":1009},{"t":5,"p":1008.99},
      {"t":5.5,"p":1009.018},{"t":6,"p":1009.002},{"t":6.5,"p":1009.024},{"t":7,"p":1009.006},{"t":7.5,"p":1009.034},{"t":8,"p":1009.022},{"t":8.5,"p":1009.046},{"t":9,"p":1009.03},{"t":9.5,"p":1009.054},{"t":10,"p":1009.036},
      {"t":10.5,"p":1009.058},{"t":11,"p":1009.03},{"t":11.5,"p":1009.062},{"t":12,"p":1009.044},{"t":12.5,"p":1009.07},{"t":13,"p":1009.058},{"t":13.5,"p":1009.08},{"t":14,"p":1009.06},{"t":14.5,"p":1009.09},{"t":15,"p":1009.074},
      {"t":15.5,"p":1009.1},{"t":16,"p":1009.084},{"t":16.5,"p":1009.112},{"t":17,"p":1009.098},{"t":17.5,"p":1009.122},{"t":18,"p":1009.1},{"t":18.5,"p":1009.108},{"t":19,"p":1009.076},{"t":19.5,"p":1009.096},{"t":20,"p":1009.074},
      {"t":20.5,"p":1009.104},{"t":21,"p":1009.09},{"t":21.5,"p":1009.104},{"t":22,"p":1009.076},{"t":22.5,"p":1009.088},{"t":23,"p":1009.058},{"t":23.5,"p":1009.072},{"t":24,"p":1009.044},{"t":24.5,"p":1009.005},{"t":25,"p":1009.018},
      {"t":25.5,"p":1009.048},{"t":26,"p":1009.036},{"t":26.5,"p":1009.05},{"t":27,"p":1009.022},{"t":27.5,"p":1009.046},{"t":28,"p":1009.024},{"t":28.5,"p":1009.05},{"t":29,"p":1009.034},{"t":29.5,"p":1009.048},{"t":30,"p":1009.024},
      {"t":30.5,"p":1009.046},{"t":31,"p":1009.022},{"t":31.5,"p":1009.05},{"t":32,"p":1009.032},{"t":32.5,"p":1009.054},{"t":33,"p":1009.034},{"t":33.5,"p":1009.052},{"t":34,"p":1009.03},{"t":34.5,"p":1009.048},{"t":35,"p":1009.022},
      {"t":35.5,"p":1009.04},{"t":36,"p":1009.016},{"t":36.5,"p":1009.032},{"t":37,"p":1009.006},{"t":37.5,"p":1009.028},{"t":38,"p":1009.008},{"t":38.5,"p":1009.026},{"t":39,"p":1009.004},{"t":39.5,"p":1009.034},{"t":40,"p":1009.04},
      {"t":40.5,"p":1009.012},{"t":41,"p":1009.026},{"t":41.5,"p":1009.01},{"t":42,"p":1009.036},{"t":42.5,"p":1009.02},{"t":43,"p":1009.044},{"t":43.5,"p":1009.01},{"t":44,"p":1009.042},{"t":44.5,"p":1009.024},{"t":45,"p":1009.044},
      {"t":45.5,"p":1009.038},{"t":46,"p":1009.08},{"t":46.5,"p":1009.058},{"t":47,"p":1009.08},{"t":47.5,"p":1009.06},{"t":48,"p":1009.078},{"t":48.5,"p":1009.066},{"t":49,"p":1009.096},{"t":49.5,"p":1009.084},{"t":50,"p":1009.112},
      {"t":50.5,"p":1009.106},{"t":51,"p":1009.128},{"t":51.5,"p":1009.124},{"t":52,"p":1009.166},{"t":52.5,"p":1009.134},{"t":53,"p":1009.148},{"t":53.5,"p":1009.138},{"t":54,"p":1009.164},{"t":54.5,"p":1009.128},{"t":55,"p":1009.156},
      {"t":55.5,"p":1009.132},{"t":56,"p":1009.136},{"t":56.5,"p":1009.1},{"t":57,"p":1009.104},{"t":57.5,"p":1009.08},{"t":58,"p":1009.096},{"t":58.5,"p":1009.068},{"t":59,"p":1009.08},{"t":59.5,"p":1009.052},{"t":60,"p":1009.068},
      {"t":60.5,"p":1009.05}
    ],
    "dpd": [
      {"s":1,"t":2,"d":-0.184},{"s":1,"t":2.4,"d":-0.044},{"s":1,"t":2.8,"d":0.131},{"s":1,"t":3.3,"d":0.356},
      {"s":2,"t":8.5,"d":0.306},{"s":2,"t":9,"d":0.391},{"s":2,"t":9.35,"d":0.411},{"s":2,"t":9.8,"d":0.361},{"s":2,"t":10.3,"d":0.256},{"s":2,"t":10.8,"d":0.281},{"s":2,"t":11.4,"d":0.331},{"s":2,"t":11.9,"d":0.296},{"s":2,"t":12.3,"d":0.276},{"s":2,"t":12.6,"d":0.301},
      {"s":2,"t":13,"d":0.481},{"s":2,"t":13.4,"d":0.781},{"s":2,"t":13.8,"d":1.056},{"s":2,"t":14.3,"d":1.196},{"s":2,"t":14.7,"d":1.141},{"s":2,"t":15.1,"d":1.031},{"s":2,"t":15.7,"d":0.866},{"s":2,"t":16.2,"d":0.656},{"s":2,"t":16.6,"d":0.381},{"s":2,"t":16.9,"d":0.151},
      {"s":2,"t":17.3,"d":-0.269},{"s":2,"t":17.8,"d":-0.639},{"s":2,"t":18.2,"d":-0.594},{"s":2,"t":18.7,"d":-0.309},{"s":2,"t":19.3,"d":0.131},{"s":2,"t":19.9,"d":0.436},{"s":2,"t":20.2,"d":0.406},{"s":2,"t":20.5,"d":0.276},{"s":2,"t":21,"d":-0.059},{"s":2,"t":21.8,"d":-0.354},
      {"s":2,"t":22.4,"d":-0.814},{"s":2,"t":22.9,"d":-1.269},{"s":2,"t":23.3,"d":-1.454},{"s":2,"t":23.7,"d":-1.269},{"s":2,"t":24.05,"d":-0.814},{"s":2,"t":24.7,"d":-0.099},{"s":2,"t":25.2,"d":0.206},{"s":2,"t":25.7,"d":0.406},{"s":2,"t":26.1,"d":0.606},{"s":2,"t":26.5,"d":0.696},
      {"s":2,"t":26.9,"d":0.556},{"s":2,"t":27.3,"d":0.321},{"s":2,"t":28,"d":-0.019},{"s":2,"t":28.5,"d":-0.224},{"s":2,"t":28.9,"d":-0.144},{"s":2,"t":29.3,"d":0.026},{"s":2,"t":29.9,"d":0.406},{"s":2,"t":30.4,"d":0.531},{"s":2,"t":30.8,"d":0.521},{"s":2,"t":31.2,"d":0.446},
      {"s":2,"t":31.6,"d":0.411},{"s":2,"t":32.35,"d":0.411},{"s":2,"t":33.3,"d":0.341},{"s":2,"t":34.15,"d":0.151},{"s":2,"t":34.8,"d":-0.224},{"s":2,"t":35.45,"d":-0.564},{"s":2,"t":35.95,"d":-0.729},{"s":2,"t":36.6,"d":-0.434},{"s":2,"t":37.25,"d":-0.014},{"s":2,"t":37.74,"d":0.151},
      {"s":2,"t":38.4,"d":0.091},{"s":2,"t":39.05,"d":-0.024},{"s":2,"t":39.54,"d":0.006},{"s":2,"t":40.2,"d":0.196},{"s":2,"t":41.17,"d":0.466},{"s":2,"t":42,"d":0.541},{"s":2,"t":42.8,"d":0.581},{"s":2,"t":43.5,"d":0.446},{"s":2,"t":44.1,"d":0.356},{"s":2,"t":44.7,"d":0.471},
      {"s":2,"t":45.25,"d":0.531},{"s":2,"t":45.8,"d":0.446},{"s":2,"t":46.4,"d":0.381},{"s":2,"t":47.1,"d":0.606},{"s":2,"t":47.87,"d":0.866},{"s":2,"t":48.85,"d":0.856},{"s":2,"t":49.3,"d":1.006},{"s":2,"t":49.82,"d":1.201},{"s":2,"t":50.2,"d":1.456},{"s":2,"t":50.57,"d":1.571},
      {"s":2,"t":51.13,"d":1.371},{"s":2,"t":51.5,"d":1.056},{"s":2,"t":51.78,"d":0.741},{"s":2,"t":52.1,"d":0.506},{"s":2,"t":52.44,"d":0.411},{"s":2,"t":53.25,"d":0.371}
    ],
    "tid": [
      {"t":0.3,"n":100},{"t":10,"n":66},{"t":20,"n":31},{"t":30,"n":-5},{"t":40,"n":-37},{"t":50,"n":-72},{"t":60.5,"n":-107}
    ],
    "leg": [
      {"k":"Pressure"},{"k":"dP/dt low-passed"},{"k":"Residual"},{"k":"... last 10 min."},{"k":"Theor.Tide"}
    ]
  },
  "layer": [
    {
      "encoding": {
        "x": {"field": "t", "type": "quantitative", "scale": {"domain": [-10, 70], "nice": false, "zero": false}, "axis": null},
        "y": {"field": "g", "type": "quantitative", "scale": {"domain": [-100, 100], "nice": false, "zero": false}, "axis": null}
      },
      "layer": [
        {
          "data": {"name": "res"},
          "mark": {"type": "line", "color": "black", "strokeWidth": 1},
          "encoding": {
            "x": {"field": "t", "type": "quantitative", "scale": {"domain": [-10, 70], "nice": false, "zero": false},
              "axis": {"orient": "bottom", "values": [-10, 0, 10, 20, 30, 40, 50, 60, 70], "labelExpr": "datum.value + ''", "tickSize": 11, "labelPadding": 11, "labelFlush": false, "labelOverlap": false,
                "title": "Time [min] from 2026-08-06 02:01:00 UTC", "titleFontSize": 48, "titleX": 648.5, "titleY": 103, "titleAlign": "center", "titleBaseline": "alphabetic", "titleAngle": 0}},
            "y": {"field": "g", "type": "quantitative", "scale": {"domain": [-100, 100], "nice": false, "zero": false},
              "axis": {"orient": "left", "values": [-100, -80, -60, -40, -20, 0, 20, 40, 60, 80, 100], "labelExpr": "datum.value + ''", "tickSize": 11, "labelPadding": 9, "labelOffset": 3, "labelOverlap": false, "labelFlush": false,
                "title": "Obs’d Gravity [nm/s²]", "titleAngle": 270, "titleX": -101, "titleY": 396, "titleAlign": "center", "titleBaseline": "alphabetic"}},
            "detail": {"field": "s", "type": "nominal"}
          }
        },
        {
          "data": {"name": "yel"},
          "mark": {"type": "line", "color": "#c8c800", "strokeWidth": 2.5},
          "encoding": {
            "x": {"field": "t", "type": "quantitative", "scale": {"domain": [-10, 70], "nice": false, "zero": false},
              "axis": {"orient": "bottom", "values": [-9,-8,-7,-6,-5,-4,-3,-2,-1,1,2,3,4,5,6,7,8,9,11,12,13,14,15,16,17,18,19,21,22,23,24,25,26,27,28,29,31,32,33,34,35,36,37,38,39,41,42,43,44,45,46,47,48,49,51,52,53,54,55,56,57,58,59,61,62,63,64,65,66,67,68,69], "tickSize": 5, "labels": false, "title": null}},
            "y": {"field": "g", "type": "quantitative", "scale": {"domain": [-100, 100], "nice": false, "zero": false},
              "axis": {"orient": "left", "values": [-90, -70, -50, -30, -10, 10, 30, 50, 70, 90], "tickSize": 6, "labels": false, "title": null}},
            "detail": {"field": "s", "type": "nominal"}
          }
        },
        {
          "data": {"name": "gry"},
          "mark": {"type": "line", "color": "#c4c4c4", "strokeWidth": 2, "interpolate": "monotone"},
          "encoding": {
            "x": {"field": "t", "type": "quantitative", "scale": {"domain": [-10, 70], "nice": false, "zero": false},
              "axis": {"orient": "top", "values": [-10, 0, 10, 20, 30, 40, 50, 60, 70], "tickSize": 10, "labels": false, "title": null}},
            "detail": {"field": "s", "type": "nominal"}
          }
        },
        {
          "data": {"values": [{"t": -7, "g": -20, "g2": 20}]},
          "mark": {"type": "rule", "color": "#c8c8c8", "strokeWidth": 3},
          "encoding": {
            "x": {"field": "t", "type": "quantitative", "scale": {"domain": [-10, 70], "nice": false, "zero": false},
              "axis": {"orient": "top", "values": [-9,-8,-7,-6,-5,-4,-3,-2,-1,1,2,3,4,5,6,7,8,9,11,12,13,14,15,16,17,18,19,21,22,23,24,25,26,27,28,29,31,32,33,34,35,36,37,38,39,41,42,43,44,45,46,47,48,49,51,52,53,54,55,56,57,58,59,61,62,63,64,65,66,67,68,69], "tickSize": 5, "labels": false, "title": null}},
            "y2": {"field": "g2"}
          }
        },
        {
          "data": {"values": [{"t": -7, "g": -20}, {"t": -7, "g": 20}]},
          "mark": {"type": "tick", "orient": "horizontal", "color": "#c8c8c8", "size": 16, "thickness": 3},
          "encoding": {}
        },
        {
          "data": {"values": [{"t": -7, "g": 0}]},
          "mark": {"type": "point", "filled": true, "color": "black", "size": 55, "opacity": 1},
          "encoding": {}
        },
        {
          "data": {"values": [{"t": 50, "t2": 60, "g": -33.2}]},
          "mark": {"type": "rule", "color": "#c0c0c0", "strokeWidth": 4},
          "encoding": {"x2": {"field": "t2"}}
        },
        {
          "data": {"values": [{"t": 50, "g": -33.2}, {"t": 60, "g": -33.2}]},
          "mark": {"type": "tick", "orient": "vertical", "color": "#c0c0c0", "size": 14, "thickness": 3},
          "encoding": {}
        },
        {
          "data": {"values": [{"t": 0, "t2": 64, "g": 50}]},
          "mark": {"type": "rule", "color": "#6cc6c6", "strokeWidth": 2},
          "encoding": {"x2": {"field": "t2"}}
        },
        {
          "data": {"values": [{"t": 63, "g": 0, "g2": 100}]},
          "mark": {"type": "rule", "color": "#6cc6c6", "strokeWidth": 2},
          "encoding": {"y2": {"field": "g2"}}
        },
        {
          "data": {"values": [{"t": 63, "g": 10}, {"t": 63, "g": 20}, {"t": 63, "g": 30}, {"t": 63, "g": 40}, {"t": 63, "g": 60}, {"t": 63, "g": 70}, {"t": 63, "g": 80}, {"t": 63, "g": 90}]},
          "mark": {"type": "tick", "orient": "horizontal", "color": "#6cc6c6", "size": 8, "thickness": 1.5, "xOffset": 4},
          "encoding": {}
        },
        {
          "data": {"values": [{"t": 63, "g": 0}, {"t": 63, "g": 100}]},
          "mark": {"type": "tick", "orient": "horizontal", "color": "#6cc6c6", "size": 34, "thickness": 2},
          "encoding": {}
        },
        {
          "data": {"values": [{"t": -8.15, "g": -96.2, "txt": "The latest 1-hour, 1-second sampling"}]},
          "mark": {"type": "text", "align": "left", "baseline": "alphabetic", "font": "Liberation Sans", "fontSize": 28, "fontWeight": "bold", "color": "black"},
          "encoding": {"text": {"field": "txt"}}
        },
        {
          "data": {"values": [{"t": 68.2, "g": -96.2, "txt": "End at 2026-08-06 03:00:59 UTC"}]},
          "mark": {"type": "text", "align": "right", "baseline": "alphabetic", "font": "Liberation Sans", "fontSize": 28, "fontWeight": "bold", "color": "black"},
          "encoding": {"text": {"field": "txt"}}
        },
        {
          "data": {"values": [
            {"t": -5.4, "g": 0, "txt": "Typical noise level"},
            {"t": 65.1, "g": 50, "txt": "1 DIV = 0.5 hPa/h"},
            {"t": 67.6, "g": 50, "txt": "average = 0.1314"}
          ]},
          "mark": {"type": "text", "angle": 270, "align": "center", "baseline": "middle", "font": "Liberation Sans", "fontSize": 22, "color": "black"},
          "encoding": {"text": {"field": "txt"}}
        }
      ],
      "resolve": {"axis": {"x": "independent", "y": "independent"}}
    },
    {
      "data": {"name": "dpd"},
      "mark": {"type": "line", "color": "#19c2c2", "strokeWidth": 2, "interpolate": "monotone"},
      "encoding": {
        "x": {"field": "t", "type": "quantitative", "scale": {"domain": [-10, 70], "nice": false, "zero": false}, "axis": null},
        "y": {"field": "d", "type": "quantitative", "scale": {"domain": [-7.3686, 2.6314], "nice": false, "zero": false}, "axis": null},
        "detail": {"field": "s", "type": "nominal"}
      }
    },
    {
      "data": {"name": "prs"},
      "encoding": {
        "x": {"field": "t", "type": "quantitative", "scale": {"domain": [-10, 70], "nice": false, "zero": false}, "axis": null}
      },
      "layer": [
        {
          "mark": {"type": "line", "color": "#0000ff", "strokeWidth": 3},
          "encoding": {
            "y": {"field": "p", "type": "quantitative", "scale": {"domain": [1003, 1011], "nice": false, "zero": false},
              "axis": {"orient": "right", "values": [1008, 1009, 1010], "labelExpr": "datum.value + ''", "tickSize": 12, "labelPadding": 9, "labelOffset": 2, "labelOverlap": false,
                "title": "Pressure [hPa]", "titleAngle": 270, "titleX": 146, "titleY": 198, "titleAlign": "center", "titleBaseline": "alphabetic"}}
          }
        },
        {
          "mark": {"type": "point", "filled": true, "color": "#0000ff", "size": 14, "opacity": 1},
          "encoding": {
            "y": {"field": "p", "type": "quantitative", "scale": {"domain": [1003, 1011], "nice": false, "zero": false},
              "axis": {"orient": "right", "values": [1007,1007.1,1007.2,1007.3,1007.4,1007.5,1007.6,1007.7,1007.8,1007.9,1008.1,1008.2,1008.3,1008.4,1008.5,1008.6,1008.7,1008.8,1008.9,1009.1,1009.2,1009.3,1009.4,1009.5,1009.6,1009.7,1009.8,1009.9,1010.1,1010.2,1010.3,1010.4,1010.5,1010.6,1010.7,1010.8,1010.9], "tickSize": 6, "labels": false, "title": null}}
          }
        }
      ],
      "resolve": {"axis": {"y": "independent"}}
    },
    {
      "data": {"name": "tid"},
      "encoding": {
        "x": {"field": "t", "type": "quantitative", "scale": {"domain": [-10, 70], "nice": false, "zero": false}, "axis": null}
      },
      "layer": [
        {
          "mark": {"type": "line", "color": "#ff0000", "strokeWidth": 5},
          "encoding": {
            "y": {"field": "n", "type": "quantitative", "scale": {"domain": [-1500, 4500], "nice": false, "zero": false},
              "axis": {"orient": "right", "values": [-1500, -1000, -500, 0, 500, 1000], "labelExpr": "datum.value + ''", "tickSize": 12, "labelPadding": 80, "labelAlign": "right", "labelOffset": 2, "labelOverlap": false,
                "title": "Tide [nm/s²]", "titleAngle": 270, "titleX": 154, "titleY": 594, "titleAlign": "center", "titleBaseline": "alphabetic"}}
          }
        },
        {
          "mark": {"type": "point", "filled": true, "color": "#ff0000", "size": 20, "opacity": 1},
          "encoding": {
            "y": {"field": "n", "type": "quantitative", "scale": {"domain": [-1500, 4500], "nice": false, "zero": false},
              "axis": {"orient": "right", "values": [-1400,-1300,-1200,-1100,-900,-800,-700,-600,-400,-300,-200,-100,100,200,300,400,600,700,800,900,1100,1200,1300,1400,1500], "tickSize": 6, "labels": false, "title": null}}
          }
        }
      ],
      "resolve": {"axis": {"y": "independent"}}
    },
    {
      "data": {"name": "leg"},
      "transform": [{"filter": "false"}],
      "mark": {"type": "point", "filled": true, "opacity": 1},
      "encoding": {
        "color": {
          "field": "k", "type": "nominal",
          "scale": {"domain": ["Pressure", "dP/dt low-passed", "Residual", "... last 10 min.", "Theor.Tide"], "range": ["#0000ff", "#00c4c4", "#000000", "#c0c0c0", "#ff0000"]},
          "legend": {
            "orient": "none", "legendX": 5, "legendY": -92,
            "title": ".", "titleOrient": "right", "titleColor": "white", "titleFontSize": 8, "titlePadding": 69,
            "padding": 10, "strokeColor": "#808080", "fillColor": "white",
            "labelFont": "Liberation Sans", "labelFontSize": 23, "labelColor": "black", "labelOffset": 34, "labelLimit": 400,
            "symbolSize": 400, "symbolOffset": 45, "symbolOpacity": 1, "symbolStrokeWidth": 0, "rowPadding": 6, "zindex": 1
          }
        },
        "shape": {
          "field": "k", "type": "nominal",
          "scale": {"domain": ["Pressure", "dP/dt low-passed", "Residual", "... last 10 min.", "Theor.Tide"],
            "range": [
              "M-2.8,-0.05H2.8V0.05H-2.8ZM0.37,0A0.37,0.37,0,1,1,-0.37,0A0.37,0.37,0,1,1,0.37,0Z",
              "M-2.8,-0.05H2.8V0.05H-2.8ZM0.37,0A0.37,0.37,0,1,1,-0.37,0A0.37,0.37,0,1,1,0.37,0Z",
              "M-2.8,-0.15H2.8V0.15H-2.8Z",
              "M-2.8,-0.22H2.8V0.22H-2.8Z",
              "M-2.8,-0.05H2.8V0.05H-2.8ZM0.37,0A0.37,0.37,0,1,1,-0.37,0A0.37,0.37,0,1,1,0.37,0Z"
            ]}
        }
      }
    }
  ],
  "resolve": {"scale": {"y": "independent"}, "axis": {"x": "independent", "y": "independent"}},
  "config": {
    "font": "Liberation Sans",
    "view": {"stroke": "black", "strokeWidth": 2},
    "axis": {
      "domain": false, "grid": false, "ticks": true, "tickColor": "black", "tickWidth": 1.5,
      "labelFont": "Liberation Sans", "labelFontSize": 26, "labelColor": "black",
      "titleFont": "Liberation Sans", "titleFontSize": 47, "titleFontWeight": "normal", "titleColor": "black"
    }
  }
}
